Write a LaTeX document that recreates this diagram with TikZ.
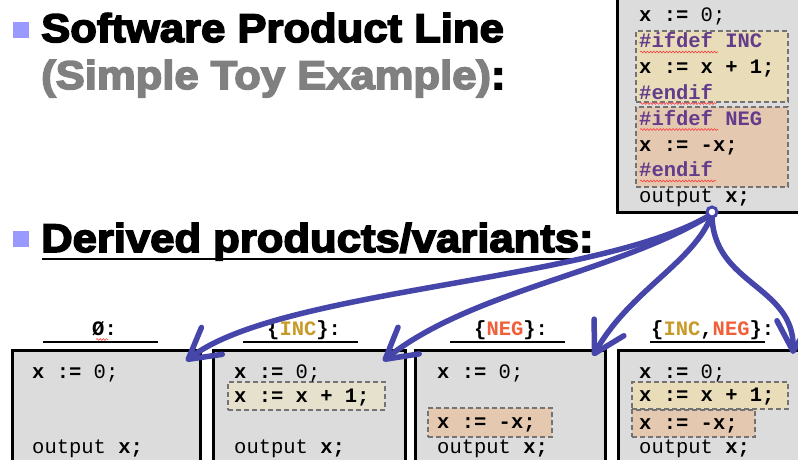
\documentclass[tikz,border=0pt]{standalone}
\usepackage{fontspec}
\setmainfont{Liberation Sans}
\setmonofont{Liberation Mono}
\newfontfamily\titlefont{Liberation Sans}[BoldFeatures={FakeBold=4,FakeStretch=1.09}]
\usetikzlibrary{arrows.meta,decorations.pathmorphing}
\definecolor{boxgray}{RGB}{220,220,220}
\definecolor{incfill}{RGB}{232,221,184}
\definecolor{incfilllight}{RGB}{230,225,205}
\definecolor{negfill}{RGB}{228,200,175}
\definecolor{dashgray}{RGB}{115,115,115}
\definecolor{inccol}{RGB}{200,155,40}
\definecolor{negcol}{RGB}{240,95,55}
\definecolor{ppurple}{RGB}{100,60,140}
\definecolor{arrowblue}{RGB}{70,70,170}
\definecolor{bulletcol}{RGB}{153,153,255}
\definecolor{titlegray}{RGB}{128,128,128}
\tikzset{
  codebox/.style={draw=black, line width=3pt, fill=boxgray, inner sep=0pt},
  featbox/.style={draw=dashgray, line width=1.8pt, dash pattern=on 5pt off 3pt, inner sep=0pt},
  codeline/.style={anchor=base west, inner sep=0pt, font=\ttfamily\fontsize{20.5}{24}\selectfont},
  lbl/.style={anchor=base west, inner sep=0pt, font=\ttfamily\bfseries\fontsize{20.5}{24}\selectfont},
  titletext/.style={anchor=base west, inner sep=0pt, font=\titlefont\bfseries\fontsize{40}{46}\selectfont},
  bulletsq/.style={fill=bulletcol, minimum size=16pt, inner sep=0pt},
  flow/.style={draw=arrowblue, line width=5.5pt, line cap=round, line join=round,
    -{Straight Barb[length=30pt,width=34pt,line cap=round,line join=round]}},
  squig/.style={draw=red!75!white, line width=0.6pt, decorate, decoration={snake, amplitude=0.9pt, segment length=3.2pt}},
  uline/.style={draw=black, line width=2pt}
}
\begin{document}
\begin{tikzpicture}[x=1pt,y=-1pt]
\useasboundingbox (0,0) rectangle (798,460);
\fill[white] (0,0) rectangle (798,460);

% titles
\node[bulletsq] (bul1) at (21,30) {};
\node[titletext] (t1) at (41,42) {Software Product Line};
\node[titletext, text=titlegray] (t2) at (41,89) {(Simple Toy Example)\textcolor{black}{:}};
\node[bulletsq] (bul2) at (21,239) {};
\node[titletext] (t3) at (41,252) {Derived products/variants:};
\draw[line width=2.5pt] (42,259) -- (577,259);

% product line box
\node[codebox, minimum width=195pt, minimum height=232pt] (spl) at (714.5,96) {};
\node[featbox, fill=incfill, minimum width=152pt, minimum height=71pt] (splinc) at (712,66.5) {};
\node[featbox, fill=negfill, minimum width=152pt, minimum height=80pt] (splneg) at (712,147) {};
\node[codeline] (s0) at (639,22) {\textbf{x :=} 0;};
\node[codeline, text=ppurple] (s1) at (639,47.8) {\textbf{\#ifdef INC}};
\node[codeline] (s2) at (639,73.6) {\textbf{x := x + 1;}};
\node[codeline, text=ppurple] (s3) at (639,99.4) {\textbf{\#endif}};
\node[codeline, text=ppurple] (s4) at (639,125.2) {\textbf{\#ifdef NEG}};
\node[codeline] (s5) at (639,151) {\textbf{x := -x;}};
\node[codeline, text=ppurple] (s6) at (639,176.8) {\textbf{\#endif}};
\node[codeline] (s7) at (639,202.6) {output \textbf{x;}};
\draw[squig] (640,52) -- (718,52);
\draw[squig] (640,103.5) -- (716,103.5);
\draw[squig] (640,129.5) -- (718,129.5);
\draw[squig] (640,181) -- (716,181);

% variant labels
\node[lbl] (l1) at (92,335) {Ø:};
\draw[squig] (96,339.5) -- (108,339.5);
\draw[uline] (43,342) -- (158,342);
\node[lbl] (l2) at (267,335) {\{\textcolor{inccol}{INC}\}:};
\draw[uline] (243,342) -- (358,342);
\node[lbl] (l3) at (474,335) {\{\textcolor{negcol}{NEG}\}:};
\draw[uline] (450,342) -- (565,342);
\node[lbl] (l4) at (651,335) {\{\textcolor{inccol}{INC},\textcolor{negcol}{NEG}\}:};
\draw[uline] (650,342) -- (765,342);

% variant boxes
\node[codebox, minimum width=188pt, minimum height=130pt] (v1) at (106,415) {};
\node[codebox, minimum width=192pt, minimum height=130pt] (v2) at (309,415) {};
\node[codebox, minimum width=190pt, minimum height=130pt] (v3) at (510,415) {};
\node[codebox, minimum width=194pt, minimum height=130pt] (v4) at (715,415) {};

\node[featbox, fill=incfilllight, minimum width=157pt, minimum height=28pt] (v2inc) at (306.5,396) {};
\node[featbox, fill=negfill, minimum width=124pt, minimum height=29pt] (v3neg) at (490,422.5) {};
\node[featbox, fill=incfill, minimum width=156pt, minimum height=27pt] (v4inc) at (710,395.5) {};
\node[featbox, fill=negfill, minimum width=123pt, minimum height=27pt] (v4neg) at (693.5,423.5) {};

\node[codeline] (a0) at (32,378) {\textbf{x :=} 0;};
\node[codeline] (a3) at (32,453) {output \textbf{x;}};

\node[codeline] (b0) at (234,378) {\textbf{x :=} 0;};
\node[codeline] (b1) at (234,402) {\textbf{x := x + 1;}};
\node[codeline] (b3) at (234,453) {output \textbf{x;}};

\node[codeline] (c0) at (437,378) {\textbf{x :=} 0;};
\node[codeline] (c2) at (437,428.5) {\textbf{x := -x;}};
\node[codeline] (c3) at (437,453) {output \textbf{x;}};

\node[codeline] (d0) at (639,378) {\textbf{x :=} 0;};
\node[codeline] (d1) at (639,401.5) {\textbf{x := x + 1;}};
\node[codeline] (d2) at (639,429) {\textbf{x := -x;}};
\node[codeline] (d3) at (639,453) {output \textbf{x;}};

% derivation arrows
\coordinate (tip1) at (186,361);
\coordinate (tip2) at (383,361);
\coordinate (tip3) at (593,356);
\coordinate (tip4) at (793,354);
\draw[flow] (712,214) .. controls (600,282) and (280,288) .. (tip1);
\draw[flow] (712,214) .. controls (620,272) and (472,290) .. (tip2);
\draw[flow] (712,214) .. controls (695,262) and (630,290) .. (tip3);
\draw[flow] (712,214) .. controls (712,285) and (795,285) .. (tip4);
\node[circle, draw=arrowblue, fill=white, line width=3pt, minimum size=10pt, inner sep=0pt] (src) at (712,212) {};
\end{tikzpicture}
\end{document}
